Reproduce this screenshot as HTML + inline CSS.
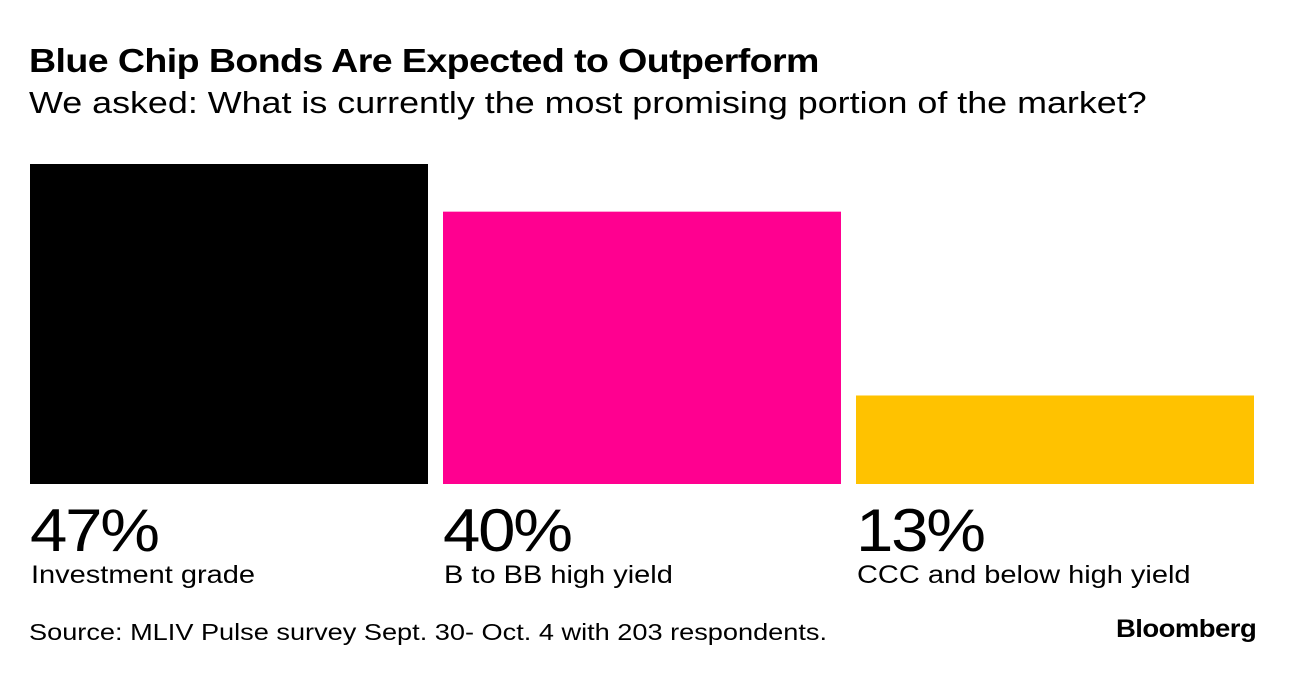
<!DOCTYPE html>
<html><head><meta charset="utf-8"><style>
body{margin:0;width:1296px;height:674px;background:#fff;font-family:"Liberation Sans",Arial,sans-serif;position:relative;overflow:hidden;color:#000}
.t{position:absolute;white-space:nowrap;transform-origin:0 0}
</style></head><body>
<div class="t" style="left:29px;top:42px;font-size:33px;font-weight:bold;letter-spacing:-0.5px;transform:scaleX(1.137)">Blue Chip Bonds Are Expected to Outperform</div>
<div class="t" style="left:29px;top:85px;font-size:31px;transform:scaleX(1.157)">We asked: What is currently the most promising portion of the market?</div>
<svg id="chart" width="1296" height="674" style="position:absolute;left:0;top:0"></svg>
<div class="t" style="left:29px;top:619px;font-size:23px;transform:scaleX(1.18)">Source: MLIV Pulse survey Sept. 30- Oct. 4 with 203 respondents.</div>
<div class="t" style="left:1116px;top:615px;font-size:25px;font-weight:bold;letter-spacing:-0.5px;transform:scaleX(1.1)">Bloomberg</div>
<script>
const categories=["Investment grade","B to BB high yield","CCC and below high yield"];
const values=[47,40,13];
const colors=["#000000","#ff0090","#ffc200"];
const svg=document.getElementById('chart');
const NS='http://www.w3.org/2000/svg';
const baseY=484, maxV=47, maxH=320, x0=30, barW=398, step=413;
function y(v){return baseY-v/maxV*maxH;}
function x(i){return x0+i*step;}
categories.forEach((c,i)=>{
  const r=document.createElementNS(NS,'rect');
  r.setAttribute('x',x(i));r.setAttribute('y',y(values[i]));
  r.setAttribute('width',barW);r.setAttribute('height',baseY-y(values[i]));
  r.setAttribute('fill',colors[i]);
  
  
  svg.appendChild(r);
  const v=document.createElementNS(NS,'text');
  v.setAttribute('transform','translate('+x(i)+',551) scale(1.12,1)');
  v.setAttribute('font-size','60');v.setAttribute('letter-spacing','-2');
  v.setAttribute('font-family','"Liberation Sans",Arial,sans-serif');
  v.textContent=values[i]+'%';
  
  
  svg.appendChild(v);
  const l=document.createElementNS(NS,'text');
  l.setAttribute('transform','translate('+(x(i)+1)+',583) scale(1.16,1)');
  l.setAttribute('font-size','25');
  l.setAttribute('font-family','"Liberation Sans",Arial,sans-serif');
  l.textContent=c;
  
  
  svg.appendChild(l);
});
</script>
</body></html>
